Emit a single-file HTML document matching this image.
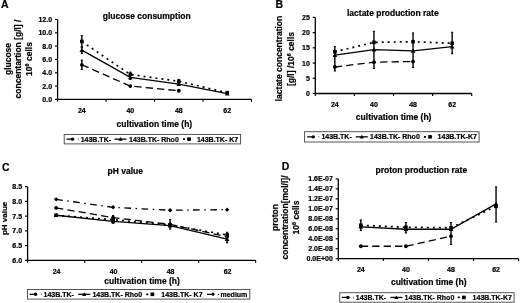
<!DOCTYPE html>
<html><head><meta charset="utf-8"><style>
html,body{margin:0;padding:0;background:#fff;width:520px;height:303px;overflow:hidden}
svg{display:block;font-family:"Liberation Sans", sans-serif;filter:blur(0.35px)}
text{fill:#000;stroke:#000;stroke-width:0.2px}
</style></head><body>
<svg width="520" height="303" viewBox="0 0 520 303">
<rect width="520" height="303" fill="#fff"/>
<text x="0.90" y="7.70" font-size="10.5" text-anchor="start" font-weight="bold">A</text>
<text x="102.80" y="18.80" font-size="8.5" text-anchor="start" font-weight="bold">glucose consumption</text>
<line x1="57.60" y1="19.50" x2="57.60" y2="99.40" stroke="#000" stroke-width="1.3"/>
<line x1="57.60" y1="99.40" x2="251.50" y2="99.40" stroke="#000" stroke-width="1.3"/>
<line x1="55.00" y1="19.50" x2="57.60" y2="19.50" stroke="#000" stroke-width="1.2"/>
<text x="52.10" y="22.00" font-size="7" text-anchor="end" font-weight="bold">12.0</text>
<line x1="55.00" y1="32.82" x2="57.60" y2="32.82" stroke="#000" stroke-width="1.2"/>
<text x="52.10" y="35.32" font-size="7" text-anchor="end" font-weight="bold">10.0</text>
<line x1="55.00" y1="46.13" x2="57.60" y2="46.13" stroke="#000" stroke-width="1.2"/>
<text x="52.10" y="48.63" font-size="7" text-anchor="end" font-weight="bold">8.0</text>
<line x1="55.00" y1="59.45" x2="57.60" y2="59.45" stroke="#000" stroke-width="1.2"/>
<text x="52.10" y="61.95" font-size="7" text-anchor="end" font-weight="bold">6.0</text>
<line x1="55.00" y1="72.77" x2="57.60" y2="72.77" stroke="#000" stroke-width="1.2"/>
<text x="52.10" y="75.27" font-size="7" text-anchor="end" font-weight="bold">4.0</text>
<line x1="55.00" y1="86.08" x2="57.60" y2="86.08" stroke="#000" stroke-width="1.2"/>
<text x="52.10" y="88.58" font-size="7" text-anchor="end" font-weight="bold">2.0</text>
<line x1="55.00" y1="99.40" x2="57.60" y2="99.40" stroke="#000" stroke-width="1.2"/>
<text x="52.10" y="101.90" font-size="7" text-anchor="end" font-weight="bold">0.0</text>
<line x1="57.60" y1="99.40" x2="57.60" y2="101.80" stroke="#000" stroke-width="1.2"/>
<line x1="106.08" y1="99.40" x2="106.08" y2="101.80" stroke="#000" stroke-width="1.2"/>
<line x1="154.55" y1="99.40" x2="154.55" y2="101.80" stroke="#000" stroke-width="1.2"/>
<line x1="203.03" y1="99.40" x2="203.03" y2="101.80" stroke="#000" stroke-width="1.2"/>
<line x1="251.50" y1="99.40" x2="251.50" y2="101.80" stroke="#000" stroke-width="1.2"/>
<text x="81.84" y="112.70" font-size="7" text-anchor="middle" font-weight="bold">24</text>
<text x="130.31" y="112.70" font-size="7" text-anchor="middle" font-weight="bold">40</text>
<text x="178.79" y="112.70" font-size="7" text-anchor="middle" font-weight="bold">48</text>
<text x="227.26" y="112.70" font-size="7" text-anchor="middle" font-weight="bold">62</text>
<text x="154.40" y="126.50" font-size="8.5" text-anchor="middle" font-weight="bold">cultivation time (h)</text>
<g transform="translate(0,59) rotate(-90)">
<text x="0.00" y="11.30" font-size="8.5" text-anchor="middle" font-weight="bold">glucose</text>
<text x="0.00" y="20.80" font-size="8.5" text-anchor="middle" font-weight="bold">concentartion [g/l] /</text>
<text x="0.00" y="32.30" font-size="8.5" text-anchor="middle" font-weight="bold">10<tspan dy="-3" font-size="5.5">6</tspan><tspan dy="3"> cells</tspan></text>
</g>
<polyline points="81.84,64.78 130.31,86.08 178.79,90.74" fill="none" stroke="#000" stroke-width="1.3" stroke-dasharray="7.3,4.1"/>
<polyline points="81.84,50.13 130.31,77.43 178.79,84.09 227.26,93.54" fill="none" stroke="#000" stroke-width="1.3"/>
<polyline points="81.84,41.47 130.31,74.43 178.79,81.29 227.26,92.74" fill="none" stroke="#000" stroke-width="1.7" stroke-dasharray="2,4"/>
<line x1="81.84" y1="35.48" x2="81.84" y2="47.47" stroke="#000" stroke-width="1.4"/>
<line x1="80.74" y1="35.48" x2="82.94" y2="35.48" stroke="#000" stroke-width="1.0"/>
<line x1="80.74" y1="47.47" x2="82.94" y2="47.47" stroke="#000" stroke-width="1.0"/>
<line x1="81.84" y1="46.80" x2="81.84" y2="53.46" stroke="#000" stroke-width="1.4"/>
<line x1="80.74" y1="46.80" x2="82.94" y2="46.80" stroke="#000" stroke-width="1.0"/>
<line x1="80.74" y1="53.46" x2="82.94" y2="53.46" stroke="#000" stroke-width="1.0"/>
<line x1="81.84" y1="60.12" x2="81.84" y2="69.44" stroke="#000" stroke-width="1.4"/>
<line x1="80.74" y1="60.12" x2="82.94" y2="60.12" stroke="#000" stroke-width="1.0"/>
<line x1="80.74" y1="69.44" x2="82.94" y2="69.44" stroke="#000" stroke-width="1.0"/>
<line x1="130.31" y1="72.10" x2="130.31" y2="79.43" stroke="#000" stroke-width="1.4"/>
<line x1="129.21" y1="72.10" x2="131.41" y2="72.10" stroke="#000" stroke-width="1.0"/>
<line x1="129.21" y1="79.43" x2="131.41" y2="79.43" stroke="#000" stroke-width="1.0"/>
<line x1="178.79" y1="79.43" x2="178.79" y2="85.42" stroke="#000" stroke-width="1.4"/>
<line x1="177.69" y1="79.43" x2="179.89" y2="79.43" stroke="#000" stroke-width="1.0"/>
<line x1="177.69" y1="85.42" x2="179.89" y2="85.42" stroke="#000" stroke-width="1.0"/>
<line x1="227.26" y1="91.41" x2="227.26" y2="94.07" stroke="#000" stroke-width="1.4"/>
<line x1="226.16" y1="91.41" x2="228.36" y2="91.41" stroke="#000" stroke-width="1.0"/>
<line x1="226.16" y1="94.07" x2="228.36" y2="94.07" stroke="#000" stroke-width="1.0"/>
<circle cx="81.84" cy="64.78" r="1.90" fill="#000"/>
<circle cx="130.31" cy="86.08" r="1.90" fill="#000"/>
<circle cx="178.79" cy="90.74" r="1.90" fill="#000"/>
<polygon points="81.84,47.83 84.14,51.97 79.54,51.97" fill="#000"/>
<polygon points="130.31,75.13 132.61,79.27 128.01,79.27" fill="#000"/>
<polygon points="178.79,81.79 181.09,85.93 176.49,85.93" fill="#000"/>
<polygon points="227.26,91.24 229.56,95.38 224.96,95.38" fill="#000"/>
<rect x="80.04" y="39.67" width="3.60" height="3.60" fill="#000"/>
<rect x="128.51" y="72.63" width="3.60" height="3.60" fill="#000"/>
<rect x="176.99" y="79.49" width="3.60" height="3.60" fill="#000"/>
<rect x="225.46" y="90.94" width="3.60" height="3.60" fill="#000"/>
<rect x="64.20" y="134.40" width="176.40" height="9.50" fill="none" stroke="#444" stroke-width="0.9"/>
<line x1="66.50" y1="139.15" x2="78.50" y2="139.15" stroke="#000" stroke-width="1.3" stroke-dasharray="7.3,4.1"/>
<circle cx="72.50" cy="139.15" r="1.71" fill="#000"/>
<text x="80.70" y="141.65" font-size="7" text-anchor="start" font-weight="bold">143B.TK-</text>
<line x1="114.50" y1="139.15" x2="126.50" y2="139.15" stroke="#000" stroke-width="1.3"/>
<polygon points="120.50,137.08 122.57,140.81 118.43,140.81" fill="#000"/>
<text x="129.00" y="141.65" font-size="7" text-anchor="start" font-weight="bold">143B.TK- Rho0</text>
<line x1="183.00" y1="139.15" x2="195.00" y2="139.15" stroke="#000" stroke-width="1.7" stroke-dasharray="2,4"/>
<rect x="187.20" y="137.35" width="3.60" height="3.60" fill="#000"/>
<text x="196.90" y="141.65" font-size="7" text-anchor="start" font-weight="bold">143B.TK- K7</text>
<text x="275.60" y="7.70" font-size="10.5" text-anchor="start" font-weight="bold">B</text>
<text x="347.00" y="16.20" font-size="8.5" text-anchor="start" font-weight="bold">lactate production rate</text>
<line x1="315.30" y1="17.40" x2="315.30" y2="93.50" stroke="#000" stroke-width="1.3"/>
<line x1="315.30" y1="93.50" x2="471.70" y2="93.50" stroke="#000" stroke-width="1.3"/>
<line x1="312.70" y1="17.40" x2="315.30" y2="17.40" stroke="#000" stroke-width="1.2"/>
<text x="309.80" y="19.90" font-size="7" text-anchor="end" font-weight="bold">25</text>
<line x1="312.70" y1="32.62" x2="315.30" y2="32.62" stroke="#000" stroke-width="1.2"/>
<text x="309.80" y="35.12" font-size="7" text-anchor="end" font-weight="bold">20</text>
<line x1="312.70" y1="47.84" x2="315.30" y2="47.84" stroke="#000" stroke-width="1.2"/>
<text x="309.80" y="50.34" font-size="7" text-anchor="end" font-weight="bold">15</text>
<line x1="312.70" y1="63.06" x2="315.30" y2="63.06" stroke="#000" stroke-width="1.2"/>
<text x="309.80" y="65.56" font-size="7" text-anchor="end" font-weight="bold">10</text>
<line x1="312.70" y1="78.28" x2="315.30" y2="78.28" stroke="#000" stroke-width="1.2"/>
<text x="309.80" y="80.78" font-size="7" text-anchor="end" font-weight="bold">5</text>
<line x1="312.70" y1="93.50" x2="315.30" y2="93.50" stroke="#000" stroke-width="1.2"/>
<text x="309.80" y="96.00" font-size="7" text-anchor="end" font-weight="bold">0</text>
<line x1="315.30" y1="93.50" x2="315.30" y2="95.90" stroke="#000" stroke-width="1.2"/>
<line x1="354.40" y1="93.50" x2="354.40" y2="95.90" stroke="#000" stroke-width="1.2"/>
<line x1="393.50" y1="93.50" x2="393.50" y2="95.90" stroke="#000" stroke-width="1.2"/>
<line x1="432.60" y1="93.50" x2="432.60" y2="95.90" stroke="#000" stroke-width="1.2"/>
<line x1="471.70" y1="93.50" x2="471.70" y2="95.90" stroke="#000" stroke-width="1.2"/>
<text x="334.85" y="107.00" font-size="7" text-anchor="middle" font-weight="bold">24</text>
<text x="373.95" y="107.00" font-size="7" text-anchor="middle" font-weight="bold">40</text>
<text x="413.05" y="107.00" font-size="7" text-anchor="middle" font-weight="bold">48</text>
<text x="452.15" y="107.00" font-size="7" text-anchor="middle" font-weight="bold">62</text>
<text x="393.65" y="120.20" font-size="8.5" text-anchor="middle" font-weight="bold">cultivation time (h)</text>
<g transform="translate(0,58.5) rotate(-90)">
<text x="0.00" y="281.90" font-size="8.5" text-anchor="middle" font-weight="bold">lactate concentration</text>
<text x="-0.50" y="294.20" font-size="8.5" text-anchor="middle" font-weight="bold">[g/l] /10<tspan dy="-3" font-size="5.5">6</tspan><tspan dy="3"> cells</tspan></text>
</g>
<polyline points="334.85,67.02 373.95,62.15 413.05,61.54" fill="none" stroke="#000" stroke-width="1.3" stroke-dasharray="7.3,4.1"/>
<polyline points="334.85,55.15 373.95,49.67 413.05,50.88 452.15,46.62" fill="none" stroke="#000" stroke-width="1.3"/>
<polyline points="334.85,51.80 373.95,42.36 413.05,41.75 452.15,43.27" fill="none" stroke="#000" stroke-width="1.7" stroke-dasharray="2,4"/>
<line x1="334.85" y1="46.70" x2="334.85" y2="71.00" stroke="#000" stroke-width="1.4"/>
<line x1="333.75" y1="46.70" x2="335.95" y2="46.70" stroke="#000" stroke-width="1.0"/>
<line x1="333.75" y1="71.00" x2="335.95" y2="71.00" stroke="#000" stroke-width="1.0"/>
<line x1="373.95" y1="31.30" x2="373.95" y2="68.50" stroke="#000" stroke-width="1.4"/>
<line x1="372.85" y1="31.30" x2="375.05" y2="31.30" stroke="#000" stroke-width="1.0"/>
<line x1="372.85" y1="68.50" x2="375.05" y2="68.50" stroke="#000" stroke-width="1.0"/>
<line x1="413.05" y1="32.90" x2="413.05" y2="67.50" stroke="#000" stroke-width="1.4"/>
<line x1="411.95" y1="32.90" x2="414.15" y2="32.90" stroke="#000" stroke-width="1.0"/>
<line x1="411.95" y1="67.50" x2="414.15" y2="67.50" stroke="#000" stroke-width="1.0"/>
<line x1="452.15" y1="32.30" x2="452.15" y2="53.70" stroke="#000" stroke-width="1.4"/>
<line x1="451.05" y1="32.30" x2="453.25" y2="32.30" stroke="#000" stroke-width="1.0"/>
<line x1="451.05" y1="53.70" x2="453.25" y2="53.70" stroke="#000" stroke-width="1.0"/>
<circle cx="334.85" cy="67.02" r="1.90" fill="#000"/>
<circle cx="373.95" cy="62.15" r="1.90" fill="#000"/>
<circle cx="413.05" cy="61.54" r="1.90" fill="#000"/>
<polygon points="334.85,52.85 337.15,56.99 332.55,56.99" fill="#000"/>
<polygon points="373.95,47.37 376.25,51.51 371.65,51.51" fill="#000"/>
<polygon points="413.05,48.58 415.35,52.72 410.75,52.72" fill="#000"/>
<polygon points="452.15,44.32 454.45,48.46 449.85,48.46" fill="#000"/>
<rect x="333.05" y="50.00" width="3.60" height="3.60" fill="#000"/>
<rect x="372.15" y="40.56" width="3.60" height="3.60" fill="#000"/>
<rect x="411.25" y="39.95" width="3.60" height="3.60" fill="#000"/>
<rect x="450.35" y="41.47" width="3.60" height="3.60" fill="#000"/>
<rect x="304.60" y="131.70" width="174.50" height="10.30" fill="none" stroke="#444" stroke-width="0.9"/>
<line x1="307.20" y1="136.85" x2="319.20" y2="136.85" stroke="#000" stroke-width="1.3" stroke-dasharray="7.3,4.1"/>
<circle cx="313.20" cy="136.85" r="1.71" fill="#000"/>
<text x="321.40" y="139.35" font-size="7" text-anchor="start" font-weight="bold">143B.TK-</text>
<line x1="355.80" y1="136.85" x2="367.80" y2="136.85" stroke="#000" stroke-width="1.3"/>
<polygon points="361.80,134.78 363.87,138.51 359.73,138.51" fill="#000"/>
<text x="370.00" y="139.35" font-size="7" text-anchor="start" font-weight="bold">143B.TK- Rho0</text>
<line x1="424.00" y1="136.85" x2="436.00" y2="136.85" stroke="#000" stroke-width="1.7" stroke-dasharray="2,4"/>
<rect x="428.20" y="135.05" width="3.60" height="3.60" fill="#000"/>
<text x="437.60" y="139.35" font-size="7" text-anchor="start" font-weight="bold">143B.TK-K7</text>
<text x="2.00" y="171.00" font-size="10.5" text-anchor="start" font-weight="bold">C</text>
<text x="107.60" y="173.80" font-size="8.5" text-anchor="start" font-weight="bold">pH value</text>
<line x1="27.60" y1="186.70" x2="27.60" y2="260.30" stroke="#000" stroke-width="1.3"/>
<line x1="27.60" y1="260.30" x2="255.60" y2="260.30" stroke="#000" stroke-width="1.3"/>
<line x1="25.00" y1="186.70" x2="27.60" y2="186.70" stroke="#000" stroke-width="1.2"/>
<text x="22.10" y="189.20" font-size="7" text-anchor="end" font-weight="bold">8.5</text>
<line x1="25.00" y1="201.42" x2="27.60" y2="201.42" stroke="#000" stroke-width="1.2"/>
<text x="22.10" y="203.92" font-size="7" text-anchor="end" font-weight="bold">8.0</text>
<line x1="25.00" y1="216.14" x2="27.60" y2="216.14" stroke="#000" stroke-width="1.2"/>
<text x="22.10" y="218.64" font-size="7" text-anchor="end" font-weight="bold">7.5</text>
<line x1="25.00" y1="230.86" x2="27.60" y2="230.86" stroke="#000" stroke-width="1.2"/>
<text x="22.10" y="233.36" font-size="7" text-anchor="end" font-weight="bold">7.0</text>
<line x1="25.00" y1="245.58" x2="27.60" y2="245.58" stroke="#000" stroke-width="1.2"/>
<text x="22.10" y="248.08" font-size="7" text-anchor="end" font-weight="bold">6.5</text>
<line x1="25.00" y1="260.30" x2="27.60" y2="260.30" stroke="#000" stroke-width="1.2"/>
<text x="22.10" y="262.80" font-size="7" text-anchor="end" font-weight="bold">6.0</text>
<line x1="27.60" y1="260.30" x2="27.60" y2="262.70" stroke="#000" stroke-width="1.2"/>
<line x1="84.60" y1="260.30" x2="84.60" y2="262.70" stroke="#000" stroke-width="1.2"/>
<line x1="141.60" y1="260.30" x2="141.60" y2="262.70" stroke="#000" stroke-width="1.2"/>
<line x1="198.60" y1="260.30" x2="198.60" y2="262.70" stroke="#000" stroke-width="1.2"/>
<line x1="255.60" y1="260.30" x2="255.60" y2="262.70" stroke="#000" stroke-width="1.2"/>
<text x="56.60" y="273.50" font-size="7" text-anchor="middle" font-weight="bold">24</text>
<text x="113.60" y="273.50" font-size="7" text-anchor="middle" font-weight="bold">40</text>
<text x="170.60" y="273.50" font-size="7" text-anchor="middle" font-weight="bold">48</text>
<text x="227.60" y="273.50" font-size="7" text-anchor="middle" font-weight="bold">62</text>
<text x="142.10" y="284.20" font-size="8.5" text-anchor="middle" font-weight="bold">cultivation time (h)</text>
<g transform="translate(0,218.4) rotate(-90)">
<text x="0.00" y="7.40" font-size="8.0" text-anchor="middle" font-weight="bold">pH value</text>
</g>
<polyline points="56.10,199.36 113.10,207.31 170.10,210.25 227.10,209.66" fill="none" stroke="#000" stroke-width="1.3" stroke-dasharray="6.7,4.5,1.5,4.5"/>
<polyline points="56.10,207.90 113.10,217.61 170.10,224.38 227.10,236.75" fill="none" stroke="#000" stroke-width="1.3" stroke-dasharray="7.3,4.1"/>
<polyline points="56.10,215.26 113.10,221.44 170.10,225.56 227.10,239.10" fill="none" stroke="#000" stroke-width="1.3"/>
<polyline points="56.10,215.26 113.10,219.67 170.10,224.97 227.10,234.98" fill="none" stroke="#000" stroke-width="1.7" stroke-dasharray="2,4"/>
<line x1="113.10" y1="215.60" x2="113.10" y2="223.30" stroke="#000" stroke-width="1.4"/>
<line x1="112.00" y1="215.60" x2="114.20" y2="215.60" stroke="#000" stroke-width="1.0"/>
<line x1="112.00" y1="223.30" x2="114.20" y2="223.30" stroke="#000" stroke-width="1.0"/>
<line x1="170.10" y1="219.60" x2="170.10" y2="229.10" stroke="#000" stroke-width="1.4"/>
<line x1="169.00" y1="219.60" x2="171.20" y2="219.60" stroke="#000" stroke-width="1.0"/>
<line x1="169.00" y1="229.10" x2="171.20" y2="229.10" stroke="#000" stroke-width="1.0"/>
<line x1="227.10" y1="232.30" x2="227.10" y2="242.90" stroke="#000" stroke-width="1.4"/>
<line x1="226.00" y1="232.30" x2="228.20" y2="232.30" stroke="#000" stroke-width="1.0"/>
<line x1="226.00" y1="242.90" x2="228.20" y2="242.90" stroke="#000" stroke-width="1.0"/>
<polygon points="56.10,197.16 58.30,199.36 56.10,201.56 53.90,199.36" fill="#000"/>
<polygon points="113.10,205.11 115.30,207.31 113.10,209.51 110.90,207.31" fill="#000"/>
<polygon points="170.10,208.05 172.30,210.25 170.10,212.45 167.90,210.25" fill="#000"/>
<polygon points="227.10,207.46 229.30,209.66 227.10,211.86 224.90,209.66" fill="#000"/>
<circle cx="56.10" cy="207.90" r="1.90" fill="#000"/>
<circle cx="113.10" cy="217.61" r="1.90" fill="#000"/>
<circle cx="170.10" cy="224.38" r="1.90" fill="#000"/>
<circle cx="227.10" cy="236.75" r="1.90" fill="#000"/>
<polygon points="56.10,212.96 58.40,217.10 53.80,217.10" fill="#000"/>
<polygon points="113.10,219.14 115.40,223.28 110.80,223.28" fill="#000"/>
<polygon points="170.10,223.26 172.40,227.40 167.80,227.40" fill="#000"/>
<polygon points="227.10,236.80 229.40,240.94 224.80,240.94" fill="#000"/>
<rect x="54.30" y="213.46" width="3.60" height="3.60" fill="#000"/>
<rect x="111.30" y="217.87" width="3.60" height="3.60" fill="#000"/>
<rect x="168.30" y="223.17" width="3.60" height="3.60" fill="#000"/>
<rect x="225.30" y="233.18" width="3.60" height="3.60" fill="#000"/>
<rect x="27.50" y="289.50" width="222.30" height="9.60" fill="none" stroke="#444" stroke-width="0.9"/>
<line x1="29.60" y1="294.30" x2="41.60" y2="294.30" stroke="#000" stroke-width="1.3" stroke-dasharray="7.3,4.1"/>
<circle cx="35.60" cy="294.30" r="1.71" fill="#000"/>
<text x="43.50" y="296.80" font-size="7" text-anchor="start" font-weight="bold">143B.TK-</text>
<line x1="78.20" y1="294.30" x2="90.20" y2="294.30" stroke="#000" stroke-width="1.3"/>
<polygon points="84.20,292.23 86.27,295.96 82.13,295.96" fill="#000"/>
<text x="92.40" y="296.80" font-size="7" text-anchor="start" font-weight="bold">143B.TK- Rho0</text>
<line x1="146.30" y1="294.30" x2="158.30" y2="294.30" stroke="#000" stroke-width="1.7" stroke-dasharray="2,4"/>
<rect x="150.50" y="292.50" width="3.60" height="3.60" fill="#000"/>
<text x="161.30" y="296.80" font-size="7" text-anchor="start" font-weight="bold">143B.TK- K7</text>
<line x1="207.00" y1="294.30" x2="219.00" y2="294.30" stroke="#000" stroke-width="1.3" stroke-dasharray="6.7,4.5,1.5,4.5"/>
<polygon points="213.00,292.32 214.98,294.30 213.00,296.28 211.02,294.30" fill="#000"/>
<text x="220.50" y="296.80" font-size="7" text-anchor="start" font-weight="bold">medium</text>
<text x="281.80" y="169.60" font-size="10.5" text-anchor="start" font-weight="bold">D</text>
<text x="375.50" y="172.70" font-size="8.5" text-anchor="start" font-weight="bold">proton production rate</text>
<line x1="338.30" y1="178.90" x2="338.30" y2="258.70" stroke="#000" stroke-width="1.3"/>
<line x1="338.30" y1="258.70" x2="518.60" y2="258.70" stroke="#000" stroke-width="1.3"/>
<line x1="335.70" y1="178.90" x2="338.30" y2="178.90" stroke="#000" stroke-width="1.2"/>
<text x="332.80" y="181.40" font-size="7" text-anchor="end" font-weight="bold">1.6E-07</text>
<line x1="335.70" y1="188.88" x2="338.30" y2="188.88" stroke="#000" stroke-width="1.2"/>
<text x="332.80" y="191.38" font-size="7" text-anchor="end" font-weight="bold">1.4E-07</text>
<line x1="335.70" y1="198.85" x2="338.30" y2="198.85" stroke="#000" stroke-width="1.2"/>
<text x="332.80" y="201.35" font-size="7" text-anchor="end" font-weight="bold">1.2E-07</text>
<line x1="335.70" y1="208.82" x2="338.30" y2="208.82" stroke="#000" stroke-width="1.2"/>
<text x="332.80" y="211.32" font-size="7" text-anchor="end" font-weight="bold">1.0E-07</text>
<line x1="335.70" y1="218.80" x2="338.30" y2="218.80" stroke="#000" stroke-width="1.2"/>
<text x="332.80" y="221.30" font-size="7" text-anchor="end" font-weight="bold">8.0E-08</text>
<line x1="335.70" y1="228.77" x2="338.30" y2="228.77" stroke="#000" stroke-width="1.2"/>
<text x="332.80" y="231.27" font-size="7" text-anchor="end" font-weight="bold">6.0E-08</text>
<line x1="335.70" y1="238.75" x2="338.30" y2="238.75" stroke="#000" stroke-width="1.2"/>
<text x="332.80" y="241.25" font-size="7" text-anchor="end" font-weight="bold">4.0E-08</text>
<line x1="335.70" y1="248.72" x2="338.30" y2="248.72" stroke="#000" stroke-width="1.2"/>
<text x="332.80" y="251.22" font-size="7" text-anchor="end" font-weight="bold">2.0E-08</text>
<line x1="335.70" y1="258.70" x2="338.30" y2="258.70" stroke="#000" stroke-width="1.2"/>
<text x="332.80" y="261.20" font-size="7" text-anchor="end" font-weight="bold">0.0E+00</text>
<line x1="338.30" y1="258.70" x2="338.30" y2="261.10" stroke="#000" stroke-width="1.2"/>
<line x1="383.38" y1="258.70" x2="383.38" y2="261.10" stroke="#000" stroke-width="1.2"/>
<line x1="428.45" y1="258.70" x2="428.45" y2="261.10" stroke="#000" stroke-width="1.2"/>
<line x1="473.53" y1="258.70" x2="473.53" y2="261.10" stroke="#000" stroke-width="1.2"/>
<line x1="518.60" y1="258.70" x2="518.60" y2="261.10" stroke="#000" stroke-width="1.2"/>
<text x="360.84" y="271.50" font-size="7" text-anchor="middle" font-weight="bold">24</text>
<text x="405.91" y="271.50" font-size="7" text-anchor="middle" font-weight="bold">40</text>
<text x="450.99" y="271.50" font-size="7" text-anchor="middle" font-weight="bold">48</text>
<text x="496.06" y="271.50" font-size="7" text-anchor="middle" font-weight="bold">62</text>
<text x="428.70" y="285.00" font-size="8.5" text-anchor="middle" font-weight="bold">cultivation time (h)</text>
<g transform="translate(0,217.5) rotate(-90)">
<text x="0.00" y="278.20" font-size="8.5" text-anchor="middle" font-weight="bold">proton</text>
<text x="0.00" y="287.50" font-size="8.5" text-anchor="middle" font-weight="bold">concentration[mol/l]/</text>
<text x="0.00" y="298.50" font-size="8.5" text-anchor="middle" font-weight="bold">10<tspan dy="-3" font-size="5.5">6</tspan><tspan dy="3"> cells</tspan></text>
</g>
<polyline points="360.84,246.23 405.91,246.23 450.99,236.26" fill="none" stroke="#000" stroke-width="1.3" stroke-dasharray="7.3,4.1"/>
<polyline points="360.84,226.78 405.91,229.27 450.99,229.27 496.06,203.84" fill="none" stroke="#000" stroke-width="1.3"/>
<polyline points="360.84,225.28 405.91,227.28 450.99,227.78 496.06,206.33" fill="none" stroke="#000" stroke-width="1.7" stroke-dasharray="2,4"/>
<line x1="360.84" y1="219.90" x2="360.84" y2="230.40" stroke="#000" stroke-width="1.4"/>
<line x1="359.74" y1="219.90" x2="361.94" y2="219.90" stroke="#000" stroke-width="1.0"/>
<line x1="359.74" y1="230.40" x2="361.94" y2="230.40" stroke="#000" stroke-width="1.0"/>
<line x1="405.91" y1="222.50" x2="405.91" y2="233.00" stroke="#000" stroke-width="1.4"/>
<line x1="404.81" y1="222.50" x2="407.01" y2="222.50" stroke="#000" stroke-width="1.0"/>
<line x1="404.81" y1="233.00" x2="407.01" y2="233.00" stroke="#000" stroke-width="1.0"/>
<line x1="450.99" y1="222.60" x2="450.99" y2="244.40" stroke="#000" stroke-width="1.4"/>
<line x1="449.89" y1="222.60" x2="452.09" y2="222.60" stroke="#000" stroke-width="1.0"/>
<line x1="449.89" y1="244.40" x2="452.09" y2="244.40" stroke="#000" stroke-width="1.0"/>
<line x1="496.06" y1="186.90" x2="496.06" y2="222.00" stroke="#000" stroke-width="1.4"/>
<line x1="494.96" y1="186.90" x2="497.16" y2="186.90" stroke="#000" stroke-width="1.0"/>
<line x1="494.96" y1="222.00" x2="497.16" y2="222.00" stroke="#000" stroke-width="1.0"/>
<circle cx="360.84" cy="246.23" r="1.90" fill="#000"/>
<circle cx="405.91" cy="246.23" r="1.90" fill="#000"/>
<circle cx="450.99" cy="236.26" r="1.90" fill="#000"/>
<polygon points="360.84,224.48 363.14,228.62 358.54,228.62" fill="#000"/>
<polygon points="405.91,226.97 408.21,231.11 403.61,231.11" fill="#000"/>
<polygon points="450.99,226.97 453.29,231.11 448.69,231.11" fill="#000"/>
<polygon points="496.06,201.54 498.36,205.68 493.76,205.68" fill="#000"/>
<rect x="359.04" y="223.48" width="3.60" height="3.60" fill="#000"/>
<rect x="404.11" y="225.48" width="3.60" height="3.60" fill="#000"/>
<rect x="449.19" y="225.98" width="3.60" height="3.60" fill="#000"/>
<rect x="494.26" y="204.53" width="3.60" height="3.60" fill="#000"/>
<rect x="339.80" y="292.70" width="174.30" height="9.50" fill="none" stroke="#444" stroke-width="0.9"/>
<line x1="341.90" y1="297.45" x2="353.90" y2="297.45" stroke="#000" stroke-width="1.3" stroke-dasharray="7.3,4.1"/>
<circle cx="347.90" cy="297.45" r="1.71" fill="#000"/>
<text x="355.80" y="299.95" font-size="7" text-anchor="start" font-weight="bold">143B.TK-</text>
<line x1="390.40" y1="297.45" x2="402.40" y2="297.45" stroke="#000" stroke-width="1.3"/>
<polygon points="396.40,295.38 398.47,299.11 394.33,299.11" fill="#000"/>
<text x="404.50" y="299.95" font-size="7" text-anchor="start" font-weight="bold">143B.TK- Rho0</text>
<line x1="457.80" y1="297.45" x2="469.80" y2="297.45" stroke="#000" stroke-width="1.7" stroke-dasharray="2,4"/>
<rect x="462.00" y="295.65" width="3.60" height="3.60" fill="#000"/>
<text x="472.60" y="299.95" font-size="7" text-anchor="start" font-weight="bold">143B.TK-K7</text>
</svg>
</body></html>
